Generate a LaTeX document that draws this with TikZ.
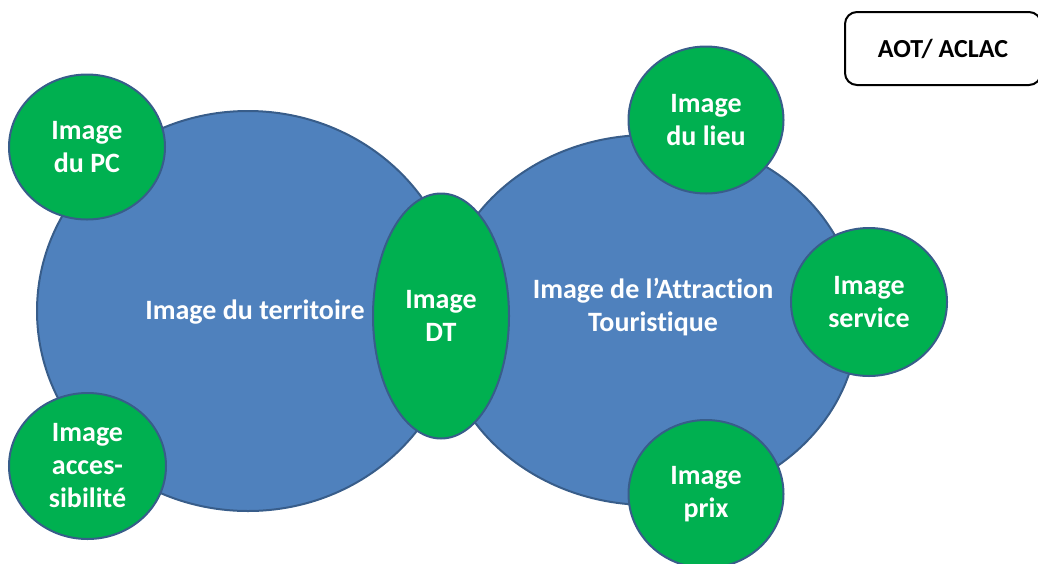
\documentclass[tikz,border=0pt]{standalone}
\usepackage{fontspec}
\setmainfont{Carlito}[Ligatures=NoCommon]
\usetikzlibrary{shapes.geometric}
\definecolor{bigblue}{HTML}{4F81BD}
\definecolor{edgeblue}{HTML}{385D8A}
\definecolor{greenfill}{HTML}{00B050}
\tikzset{
  bigell/.style={ellipse, draw=edgeblue, fill=bigblue, line width=2pt, inner sep=0pt},
  greenell/.style={ellipse, draw=edgeblue, fill=greenfill, line width=2pt, inner sep=0pt},
  wtext/.style={text=white, font=\fontsize{28}{33}\selectfont\bfseries, align=center},
  boxstyle/.style={draw=black, line width=2pt, rounded corners=12pt, fill=white}
}
\begin{document}
\begin{tikzpicture}[x=1pt,y=-1pt]
\useasboundingbox (0,0) rectangle (1038,563);
% big ellipses
\node[bigell, minimum width=422pt, minimum height=400pt] (terr) at (248,311) {};
\node[bigell, minimum width=418pt, minimum height=370pt] (attr) at (649,320) {};
\node[wtext] (terrtxt) at (255,312) {Image du territoire};
\node[wtext] (attrtxt) at (653,307) {Image de l’Attraction\\Touristique};
% green satellites
\node[greenell, minimum width=156pt, minimum height=145pt] (pc) at (87,147) {};
\node[wtext] at (pc.center) {Image\\du PC};
\node[greenell, minimum width=157pt, minimum height=146pt] (acc) at (87.5,466) {};
\node[wtext] at (acc.center) {Image\\acces-\\sibilité};
\node[greenell, minimum width=136pt, minimum height=245pt] (dt) at (441,316) {};
\node[wtext] at (dt.center) {Image\\DT};
\node[greenell, minimum width=155pt, minimum height=147pt] (lieu) at (706,120) {};
\node[wtext] at (lieu.center) {Image\\du lieu};
\node[greenell, minimum width=156pt, minimum height=148pt] (serv) at (869,302) {};
\node[wtext] at (serv.center) {Image\\service};
\node[greenell, minimum width=155pt, minimum height=148pt] (prix) at (706,494) {};
\node[wtext] at (prix.center) {Image\\prix};
% box
\node[boxstyle, minimum width=196pt, minimum height=73pt, inner sep=0pt] (aot) at (943,48.5) {};
\node[font=\fontsize{26}{30}\selectfont\bfseries, text=black] at (aot.center) {AOT/ ACLAC};
\end{tikzpicture}
\end{document}
